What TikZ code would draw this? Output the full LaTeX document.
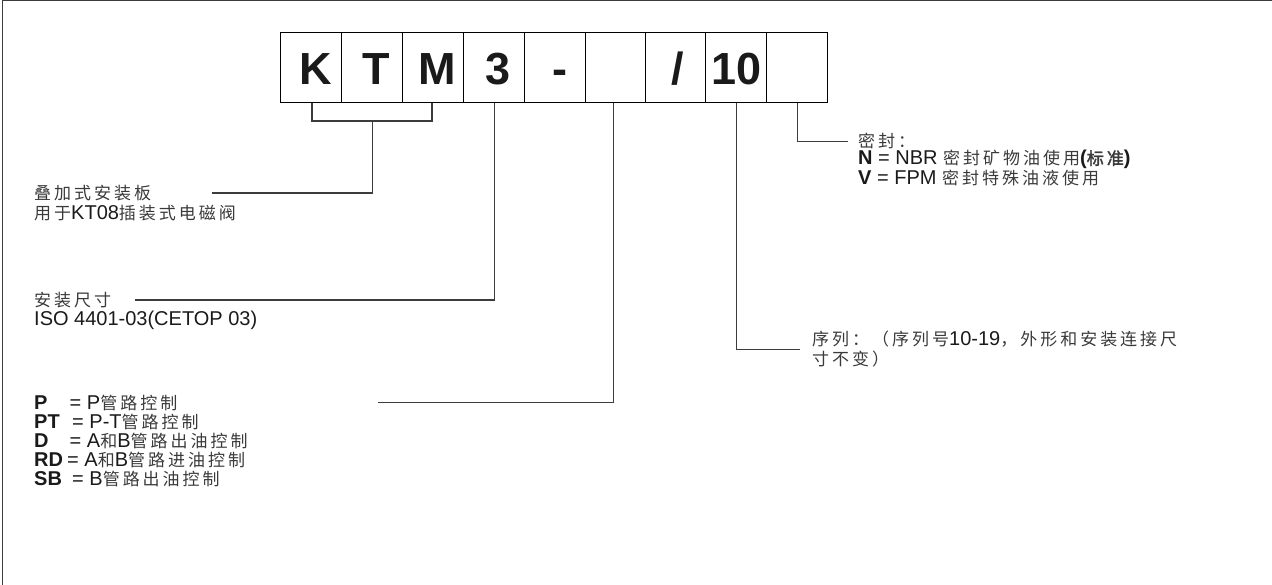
\documentclass[tikz,border=0pt]{standalone}
\usepackage{fontspec}
\setmainfont{Liberation Sans}
\newfontfamily\cjkfont[LetterSpace=17.6,AutoFakeBold=2]{Noto Sans CJK SC}
\newcommand\zh[1]{{\cjkfont\fontsize{17}{18}\selectfont\color{zhgray}#1}}
\definecolor{zhgray}{HTML}{3A3A3A}
\definecolor{linegray}{HTML}{3C3C3C}
\definecolor{txt}{HTML}{1A1A1A}
\begin{document}
\begin{tikzpicture}[x=1pt,y=-1pt,
  cell/.style={draw=black,line width=1.2pt,minimum height=70pt,inner sep=0pt,anchor=north west,
    text height=33pt,text depth=0pt,
    font=\fontsize{45}{45}\selectfont\bfseries,text=txt},
  conn/.style={draw=linegray,line width=1.2pt},
  lab/.style={anchor=west,inner sep=0pt,font=\fontsize{20}{22}\selectfont,text=txt},
  frame/.style={draw=linegray,line width=1.3pt}]
\useasboundingbox (0,0) rectangle (1272,585);
\draw[frame] (2.5,585) -- (2.5,0.7) -- (1272,0.7);
% cells
\node[cell,minimum width=61pt] (c1) at (280,32) {\hspace*{9pt}K};
\node[cell,minimum width=61pt] (c2) at (341,32) {\hspace*{9pt}T};
\node[cell,minimum width=61pt] (c3) at (402,32) {\hspace*{9pt}M};
\node[cell,minimum width=61pt] (c4) at (463,32) {\hspace*{8pt}3};
\node[cell,minimum width=61pt] (c5) at (524,32) {\hspace*{10pt}-};
\node[cell,minimum width=60pt] (c6) at (585,32) {};
\node[cell,minimum width=60pt] (c7) at (645,32) {\hspace*{5pt}/};
\node[cell,minimum width=61pt] (c8) at (705,32) {10};
\node[cell,minimum width=61pt] (c9) at (766,32) {};
% labels
\node[lab] (t1) at (34,193) {\zh{叠加式安装板}};
\node[lab] (t1b) at (34,213) {\zh{用于}KT08\zh{插装式电磁阀}};
\node[lab] (t2) at (34,300) {\zh{安装尺寸}};
\node[lab] (t2b) at (34,320) {ISO 4401-03(CETOP 03)};
\node[lab] (p1) at (34,403) {\makebox[35.5pt][l]{\bfseries P}= P\zh{管路控制}};
\node[lab] (p2) at (34,422) {\makebox[38pt][l]{\bfseries PT}= P-T\zh{管路控制}};
\node[lab] (p3) at (34,441) {\makebox[35.5pt][l]{\bfseries D}= A\zh{和}B\zh{管路出油控制}};
\node[lab] (p4) at (34,460) {\makebox[33pt][l]{\bfseries RD}= A\zh{和}B\zh{管路进油控制}};
\node[lab] (p5) at (34,479) {\makebox[38pt][l]{\bfseries SB}= B\zh{管路出油控制}};
\node[lab] (s1) at (812,339) {\zh{序列：（序列号}10-19\zh{，外形和安装连接尺}};
\node[lab] (s2) at (812,359) {\zh{寸不变）}};
\node[lab] (e1) at (858,141) {\zh{密封：}};
\node[lab] (e2) at (858,159.5) {{\bfseries N} = NBR \zh{密封矿物油使用}{\bfseries(\zh{标准})}};
\node[lab] (e3) at (858,178) {{\bfseries V} = FPM \zh{密封特殊油液使用}};
% connector endpoints
\coordinate (bl) at (312,121);
\coordinate (br) at (432,121);
\coordinate (bm) at (372.5,121);
\coordinate (k1) at (212,193);
\coordinate (k2) at (135,300);
\coordinate (k3) at (378,402.5);
\coordinate (k4) at (800,349.5);
\coordinate (k5) at (848,141.5);
% connectors
\draw[conn] (bl |- c1.south) -- (bl) -- (br) -- (br |- c3.south);
\draw[conn] (bm) |- (k1);
\draw[conn] ([xshift=0.5pt]c4.south) |- (k2);
\draw[conn] ([xshift=-2pt]c6.south) |- (k3);
\draw[conn] ([xshift=0.5pt]c8.south) |- (k4);
\draw[conn] ([xshift=0.5pt]c9.south) |- (k5);
\end{tikzpicture}
\end{document}
